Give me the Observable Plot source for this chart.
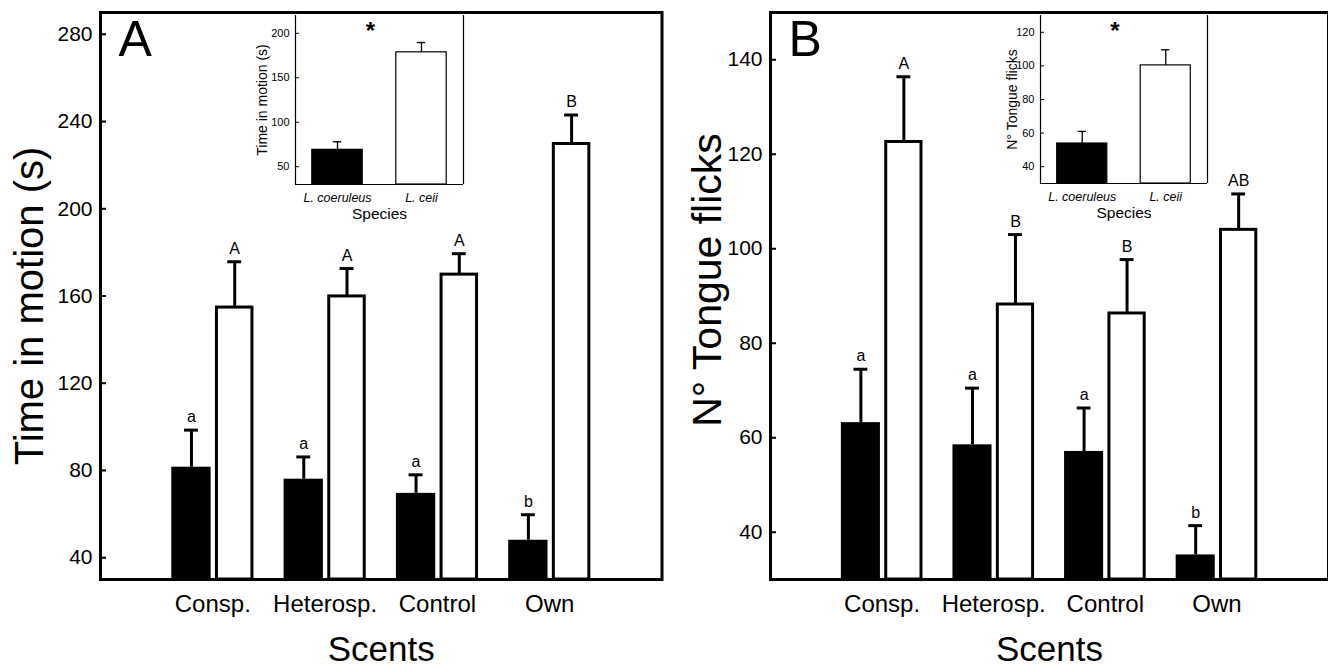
<!DOCTYPE html>
<html>
<head>
<meta charset="utf-8">
<script src="https://cdn.jsdelivr.net/npm/d3@7"></script>
<script src="https://cdn.jsdelivr.net/npm/@observablehq/plot@0.6"></script>
<style>
  html, body { margin: 0; padding: 0; background: #fff; }
  #wrap { position: relative; width: 1328px; height: 669px; overflow: hidden; background: #fff; }
  #wrap > svg { position: absolute; top: 0; }
</style>
</head>
<body>
<div id="wrap"></div>
<script>
// ---------- data ----------
const scents = ["Consp.", "Heterosp.", "Control", "Own"];
const species = ["L. coeruleus", "L. ceii"];

// Panel A: time in motion (s)
const timeCoeruleus   = [81.5, 76.0, 69.5, 48.0];
const timeCoeruleusSE = [17.0, 10.2, 8.5, 11.7];
const timeCeii        = [154.7, 159.8, 169.8, 229.7];
const timeCeiiSE      = [21.0, 12.8, 9.6, 13.3];
const timeLettersCoeruleus = ["a", "a", "a", "b"];
const timeLettersCeii      = ["A", "A", "A", "B"];

// Panel B: number of tongue flicks
const flicksCoeruleus   = [63.2, 58.5, 57.1, 35.2];
const flicksCoeruleusSE = [11.3, 12.0, 9.2, 6.2];
const flicksCeii        = [122.6, 88.2, 86.3, 104.0];
const flicksCeiiSE      = [13.8, 14.8, 11.4, 7.6];
const flicksLettersCoeruleus = ["a", "a", "a", "b"];
const flicksLettersCeii      = ["A", "B", "B", "AB"];

// Insets: species means
const insetTime      = [69.0, 178.6];
const insetTimeSE    = [9.0, 11.0];
const insetFlicks    = [53.8, 100.3];
const insetFlicksSE  = [7.2, 9.3];

// axis settings
const timeTicks = [40, 80, 120, 160, 200, 240, 280];
const flickTicks = [40, 60, 80, 100, 120, 140];
const insetTimeTicks = [50, 100, 150, 200];
const insetFlickTicks = [40, 60, 80, 100, 120];

const FONT = "Liberation Sans, Arial, Helvetica, sans-serif";

function rows(means, ses, letters, sp) {
  return means.map((v, i) => ({i, scent: scents[i], species: sp, mean: v, se: ses[i], top: v + ses[i], letter: letters[i]}));
}

function mainPanel({coe, ceii, yDomain, ticks, ytitle, panel, width, marginRight, titleDx, titleDy, titleSize}) {
  const y0 = yDomain[0];
  const offB = -0.19, offW = 0.195, half = 0.17, cap = 0.062;
  return Plot.plot({
    width, height: 669,
    marginLeft: 100, marginRight, marginTop: 12, marginBottom: 90,
    style: {fontFamily: FONT, color: "black", background: "transparent", overflow: "visible"},
    x: {domain: [-1, 4], axis: null},
    y: {domain: yDomain, axis: null},
    marks: [
      Plot.axisY({ticks, tickSize: -6, tickPadding: 14, fontSize: 21, label: null, strokeWidth: 2}),
      Plot.axisX({ticks: [0, 1, 2, 3], tickFormat: i => scents[i], tickSize: 0, tickPadding: 15, fontSize: 24, label: null}),
      // black bars (L. coeruleus)
      Plot.rectY(coe, {x1: d => d.i + offB - half - 0.005, x2: d => d.i + offB + half + 0.005, y1: y0, y2: "mean", fill: "black"}),
      // white bars (L. ceii)
      Plot.rectY(ceii, {x1: d => d.i + offW - half + 0.012, x2: d => d.i + offW + half - 0.012, y1: y0, y2: "mean", fill: "white", stroke: "black", strokeWidth: 3}),
      // error bars
      Plot.ruleX(coe, {x: d => d.i + offB, y1: "mean", y2: "top", strokeWidth: 3}),
      Plot.ruleX(ceii, {x: d => d.i + offW, y1: "mean", y2: "top", strokeWidth: 3}),
      Plot.ruleY(coe, {y: "top", x1: d => d.i + offB - cap, x2: d => d.i + offB + cap, strokeWidth: 3}),
      Plot.ruleY(ceii, {y: "top", x1: d => d.i + offW - cap, x2: d => d.i + offW + cap, strokeWidth: 3}),
      // significance letters
      Plot.text(coe, {x: d => d.i + offB, y: "top", text: "letter", dy: -13, fontSize: 16}),
      Plot.text(ceii, {x: d => d.i + offW, y: "top", text: "letter", dy: -13, fontSize: 16}),
      Plot.frame({stroke: "black", strokeWidth: 3}),
      Plot.text([panel], {frameAnchor: "top-left", dx: 18, dy: 8, lineAnchor: "top", textAnchor: "start", fontSize: 50}),
      Plot.text([ytitle], {frameAnchor: "left", dx: titleDx, dy: titleDy, rotate: -90, fontSize: titleSize, textAnchor: "middle"}),
      Plot.text(["Scents"], {frameAnchor: "bottom", dy: 57, lineAnchor: "top", textAnchor: "middle", fontSize: 35})
    ]
  });
}

function insetPanel({means, ses, yDomain, ticks, ytitle, titleDx, width, marginLeft, marginRight, marginBottom}) {
  const data = means.map((v, i) => ({i, species: species[i], mean: v, top: v + ses[i]}));
  const y0 = yDomain[0];
  const half = 0.3, cap = 0.05;
  return Plot.plot({
    width, height: 225,
    marginLeft, marginRight, marginTop: 15, marginBottom,
    style: {fontFamily: FONT, color: "black", background: "transparent", overflow: "visible"},
    x: {domain: [-0.5, 1.5], axis: null},
    y: {domain: yDomain, axis: null},
    marks: [
      Plot.axisY({ticks, tickSize: -4, tickPadding: 10, fontSize: 11, label: null}),
      Plot.axisX({ticks: [0, 1], tickFormat: i => species[i], tickSize: 0, tickPadding: 9, fontSize: 12.5, fontStyle: "italic", label: null}),
      Plot.rectY(data.filter(d => d.i === 0), {x1: d => d.i - half, x2: d => d.i + half, y1: y0, y2: "mean", fill: "black", stroke: "black", strokeWidth: 1.2}),
      Plot.rectY(data.filter(d => d.i === 1), {x1: d => d.i - half, x2: d => d.i + half, y1: y0, y2: "mean", fill: "white", stroke: "black", strokeWidth: 1.2}),
      Plot.ruleX(data, {x: "i", y1: "mean", y2: "top", strokeWidth: 1.3}),
      Plot.ruleY(data, {y: "top", x1: d => d.i - cap, x2: d => d.i + cap, strokeWidth: 1.3}),
      Plot.ruleX([-0.5, 1.5], {y1: yDomain[0], y2: yDomain[1], strokeWidth: 1.2}),
      Plot.ruleY([yDomain[0]], {strokeWidth: 1.2}),
      Plot.text(["*"], {frameAnchor: "top", dx: -9, dy: 6, lineAnchor: "top", fontSize: 24, fontWeight: "bold"}),
      Plot.text([ytitle], {frameAnchor: "left", dx: titleDx, rotate: -90, fontSize: 14, textAnchor: "middle"}),
      Plot.text(["Species"], {frameAnchor: "bottom", dy: 23, lineAnchor: "top", textAnchor: "middle", fontSize: 15.5})
    ]
  });
}

const wrap = document.getElementById("wrap");

const A = mainPanel({
  coe: rows(timeCoeruleus, timeCoeruleusSE, timeLettersCoeruleus, species[0]),
  ceii: rows(timeCeii, timeCeiiSE, timeLettersCeii, species[1]),
  yDomain: [30, 290], ticks: timeTicks, ytitle: "Time in motion (s)", panel: "A",
  width: 700, marginRight: 38.5, titleDx: -70, titleDy: 10, titleSize: 40
});
A.style.left = "0px";
wrap.appendChild(A);

const B = mainPanel({
  coe: rows(flicksCoeruleus, flicksCoeruleusSE, flicksLettersCoeruleus, species[0]),
  ceii: rows(flicksCeii, flicksCeiiSE, flicksLettersCeii, species[1]),
  yDomain: [30, 150], ticks: flickTicks, ytitle: "N° Tongue flicks", panel: "B",
  width: 658, marginRight: 0, titleDx: -63, titleDy: -16, titleSize: 41
});
B.style.left = "670px";
wrap.appendChild(B);

const IA = insetPanel({means: insetTime, ses: insetTimeSE, yDomain: [30, 220], ticks: insetTimeTicks,
  ytitle: "Time in motion (s)", titleDx: -33, width: 250, marginLeft: 65, marginRight: 17, marginBottom: 41});
IA.style.left = "230px";
wrap.appendChild(IA);

const IB = insetPanel({means: insetFlicks, ses: insetFlicksSE, yDomain: [30, 130], ticks: insetFlickTicks,
  ytitle: "N° Tongue flicks", titleDx: -28, width: 250, marginLeft: 65, marginRight: 18, marginBottom: 42});
IB.style.left = "975px";
wrap.appendChild(IB);
</script>
</body>
</html>
